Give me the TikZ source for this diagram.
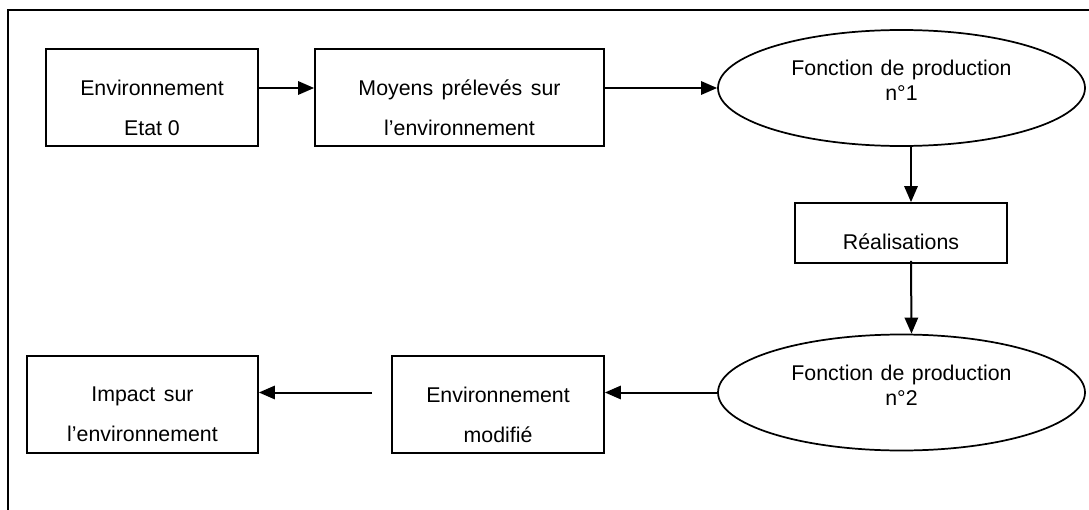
\documentclass[tikz,border=0pt]{standalone}
\usepackage{fontspec}
\setmainfont{Liberation Sans}
\usetikzlibrary{arrows.meta,shapes.geometric,calc}
\tikzset{
	>={Triangle[length=12pt,width=10pt]}, % filled arrow heads
	flow/.style={->, line width=1.5pt},
	box/.style={draw, line width=1.3pt, minimum width=159pt, minimum height=72.75pt, inner sep=0pt},
	prod/.style={ellipse, draw, line width=1.3pt, minimum width=275.25pt, minimum height=87pt, inner sep=0pt},
	boxtext/.style={align=center, font=\fontsize{16}{30}\selectfont},
	prodtext/.style={align=center, font=\fontsize{16}{18.75}\selectfont},
}
\begin{document}
\begin{tikzpicture}[x=0.75pt, y=-0.75pt] % one unit = one pixel
      \useasboundingbox (0,0) rectangle (1089,510);
      \draw[line width=1.4pt] (8,510) -- (8,10) -- (1089,10);

      \node[box] (env0) at (152,97.5) [label={[boxtext, yshift=-7.9pt]center:{Environnement\\Etat 0}}] {};
      \node[box, minimum width=216.75pt] (moy) at (459.5,97.5) [label={[boxtext, yshift=-7.9pt]center:{Moyens\hspace{0.4em}prélevés\hspace{0.4em}sur\\l’environnement}}] {};
      \node[prod] (f1) at (901.5,88) [label={[prodtext, yshift=5.6pt]center:{Fonction\hspace{0.35em}de\hspace{0.35em}production\\n°1}}] {};
      \node[box, minimum height=45pt] (real) at (901,233) [label={[boxtext, yshift=-6.75pt]center:{Réalisations}}] {};
      \node[prod] (f2) at (901.5,392.5) [label={[prodtext, yshift=5.6pt]center:{Fonction\hspace{0.35em}de\hspace{0.35em}production\\n°2}}] {};
      \node[box] (envmod) at (498,404.5) [label={[boxtext, yshift=-7.5pt]center:{Environnement\\modifié}}] {};
      \node[box, minimum width=173.25pt] (impact) at (142.5,404.5) [label={[boxtext, yshift=-7.5pt]center:{Impact\hspace{0.4em}sur\\l’environnement}}] {};

      \draw[flow] (env0.east |- f1.west) -- (moy.west |- f1.west);
      \draw[flow] (moy.east |- f1.west) -- (f1.west);
      \draw[flow] ($(f1.south)+(9.5,0)$) -- ($(real.north)+(10,0)$);
      \draw[flow] ($(real.south)+(10,-3)$) -- ($(f2.north)+(10,0)$);
      \draw[flow] (f2.west) -- (envmod.east |- f2.west);
      \draw[flow] ($(envmod.west |- f2.west)+(-19,0)$) -- (impact.east |- f2.west);
\end{tikzpicture}
\end{document}
